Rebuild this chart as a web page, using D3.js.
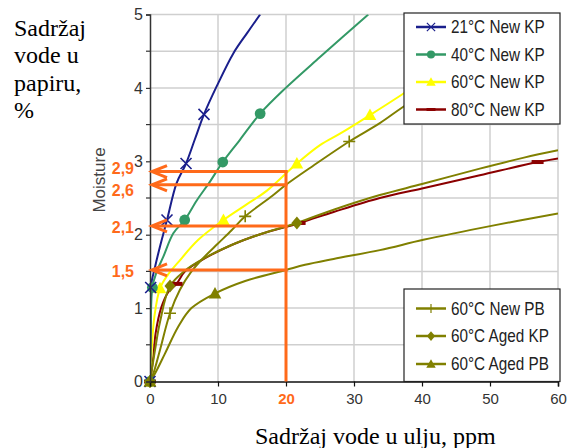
<!DOCTYPE html>
<html><head><meta charset="utf-8">
<script src="https://cdn.jsdelivr.net/npm/d3@7"></script>
<style>body{margin:0;background:#fff;overflow:hidden}</style>
</head><body>
<svg id="c" width="573" height="448"></svg>
<script>
// ---- data ----
const xTicks = [0, 10, 20, 30, 40, 50, 60];
const yTicks = [0, 1, 2, 3, 4, 5];
const yMinor = [0.5, 1.5, 2.5, 3.5, 4.5];

const s21x = [0, 0.05, 0.1, 0.74, 1.47, 2.5, 3.9, 5.3, 6.6, 7.94, 9.8, 12.25, 14.3, 16.2];
const s21y = [0, 0.65, 1.28, 1.56, 1.84, 2.2, 2.7, 2.97, 3.3, 3.64, 4.02, 4.47, 4.75, 5.0];
const s21m = [0, 2, 5, 7, 9];

const s40x = [0, 0.1, 0.35, 1.0, 1.96, 3.43, 5.1, 6.9, 8.8, 10.7, 13.2, 16.2, 19.85, 25, 32.1];
const s40y = [0, 0.6, 1.28, 1.5, 1.70, 2.02, 2.2, 2.47, 2.72, 2.99, 3.29, 3.65, 3.99, 4.42, 5.0];
const s40m = [0, 2, 6, 9, 11];

const s60x = [0, 0.25, 0.64, 1.47, 2.6, 4.2, 7.1, 10.8, 14, 17.2, 21.6, 25, 28, 32.35, 36.9, 45, 55];
const s60y = [0, 0.43, 0.88, 1.27, 1.45, 1.63, 1.93, 2.2, 2.4, 2.6, 2.97, 3.22, 3.38, 3.63, 3.9, 4.4, 5.0];
const s60m = [0, 3, 7, 10, 13];

const s80x = [0, 0.5, 0.83, 1.7, 2.7, 3.9, 5.15, 8.1, 12, 16, 22, 27, 33.8, 40, 48.5, 57, 60];
const s80y = [0, 0.34, 0.66, 1.02, 1.22, 1.33, 1.5, 1.68, 1.86, 2.0, 2.16, 2.31, 2.50, 2.63, 2.81, 2.99, 3.04];
const s80m = [0, 5, 10, 15];

const pbNx = [0, 0.5, 1.47, 2.94, 4.4, 6.1, 7.8, 10.0, 12.0, 14.0, 18, 20, 24, 29.3, 33.8, 37.2, 45, 55];
const pbNy = [0, 0.11, 0.43, 0.93, 1.25, 1.5, 1.68, 1.88, 2.06, 2.25, 2.53, 2.68, 2.94, 3.27, 3.52, 3.74, 4.2, 4.8];
const pbNm = [0, 3, 9, 13];

const kpAx = [0, 0.74, 1.47, 2.94, 5.0, 8.0, 12, 16, 21.6, 27, 33.8, 40, 48.5, 55, 60];
const kpAy = [0, 0.43, 0.81, 1.30, 1.5, 1.68, 1.86, 2.0, 2.16, 2.34, 2.54, 2.69, 2.90, 3.05, 3.15];
const kpAm = [0, 3, 8];

const pbAx = [0, 0.74, 2.2, 4.17, 6.1, 9.56, 14, 20, 22.8, 27, 33.8, 40.2, 50.2, 60];
const pbAy = [0, 0.11, 0.38, 0.75, 1.0, 1.2, 1.37, 1.52, 1.59, 1.67, 1.79, 1.93, 2.12, 2.29];
const pbAm = [0, 5];

const seriesNames = ["21°C New KP", "40°C New KP", "60°C New KP", "80°C New KP",
                     "60°C New PB", "60°C Aged KP", "60°C Aged PB"];
const seriesColors = ["#1a1f8c", "#339966", "#ffff00", "#8b0000", "#808000", "#808000", "#808000"];
const seriesMarkers = ["x", "circle", "tri", "dash", "plus", "diamond", "tri"];

const arrowX = 20;
const arrowValues = [2.86, 2.68, 2.12, 1.52];
const labelValues = [2.9, 2.6, 2.1, 1.5];
const labelTexts = ["2,9", "2,6", "2,1", "1,5"];

// ---- build ----
const seriesData = [
  [s21x, s21y, s21m], [s40x, s40y, s40m], [s60x, s60y, s60m], [s80x, s80y, s80m],
  [pbNx, pbNy, pbNm], [kpAx, kpAy, kpAm], [pbAx, pbAy, pbAm]
];
const series = seriesData.map((d, i) => ({
  name: seriesNames[i], color: seriesColors[i], marker: seriesMarkers[i],
  pts: d[0].map((x, j) => [x, d[1][j]]),
  marks: d[2].map(j => [d[0][j], d[1][j]])
}));

const svg = d3.select("#c");
const x = d3.scaleLinear().domain([0, 60]).range([150, 558]);
const y = d3.scaleLinear().domain([0, 5]).range([381.5, 14.5]);
const orange = "#ff6a1a";
const sans = "'Liberation Sans',Arial,sans-serif";
const serif = "'Liberation Serif','Times New Roman',serif";

svg.append("defs").append("clipPath").attr("id", "plot")
  .append("rect").attr("x", x(0)).attr("y", y(5)).attr("width", x(60) - x(0)).attr("height", y(0) - y(5));

// grid
const grid = svg.append("g");
grid.selectAll(".gx").data(xTicks.slice(1)).join("line")
  .attr("x1", d => x(d)).attr("x2", d => x(d)).attr("y1", y(0)).attr("y2", y(5))
  .attr("stroke", "#cfcfcf").attr("stroke-width", 1.5);
grid.selectAll(".gy").data(yTicks.slice(1).concat(yMinor)).join("line")
  .attr("x1", x(0)).attr("x2", x(60)).attr("y1", d => y(d)).attr("y2", d => y(d))
  .attr("stroke", "#cfcfcf").attr("stroke-width", 1.5);

// marker drawing
function marker(g, type, cx, cy, color, s) {
  s = s || 1;
  const t = `translate(${cx},${cy}) scale(${s})`;
  if (type === "x") g.append("path").attr("transform", t).attr("d", "M-5.5,-5.5L5.5,5.5M-5.5,5.5L5.5,-5.5")
      .attr("stroke", color).attr("stroke-width", 1.6).attr("fill", "none");
  else if (type === "plus") g.append("path").attr("transform", t).attr("d", "M-6,0H6M0,-6V6")
      .attr("stroke", color).attr("stroke-width", 1.6).attr("fill", "none");
  else if (type === "circle") g.append("circle").attr("transform", t).attr("r", 5.4).attr("fill", color);
  else if (type === "tri") g.append("path").attr("transform", t).attr("d", "M0,-6.5L6.3,5L-6.3,5Z").attr("fill", color);
  else if (type === "diamond") g.append("path").attr("transform", t).attr("d", "M0,-6.5L5.5,0L0,6.5L-5.5,0Z").attr("fill", color);
  else if (type === "dash") g.append("rect").attr("transform", t).attr("x", -6).attr("y", -2).attr("width", 12).attr("height", 4).attr("fill", color);
}

// lines
const line = d3.line().x(d => x(d[0])).y(d => y(d[1])).curve(d3.curveCatmullRom.alpha(0.5));
const lg = svg.append("g").attr("clip-path", "url(#plot)");
const order = [3, 2, 1, 0, 4, 5, 6];
order.forEach(i => {
  lg.append("path").attr("d", line(series[i].pts)).attr("fill", "none")
    .attr("stroke", series[i].color).attr("stroke-width", 2);
});
const mg = svg.append("g");
order.forEach(i => {
  series[i].marks.forEach(p => marker(mg, series[i].marker, x(p[0]), y(p[1]), series[i].color));
});

// axes
const xa = svg.append("g").attr("transform", `translate(0,${y(0)})`)
  .call(d3.axisBottom(x).tickValues(xTicks).tickSize(5).tickPadding(7));
xa.select(".domain").attr("stroke", "#111").attr("stroke-width", 1.5);
xa.selectAll(".tick line").attr("stroke", "#111").attr("stroke-width", 1.2);
xa.selectAll(".tick text").attr("font-family", sans).attr("font-size", 15)
  .attr("fill", d => d === arrowX ? orange : "#333").attr("font-weight", d => d === arrowX ? "bold" : "normal");

const ya = svg.append("g").attr("transform", `translate(${x(0)},0)`)
  .call(d3.axisLeft(y).tickValues(yTicks).tickSize(4).tickPadding(3).tickFormat(d3.format("d")));
ya.select(".domain").attr("stroke", "#333").attr("stroke-width", 1.5);
ya.selectAll(".tick line").attr("stroke", "#333").attr("stroke-width", 1.2);
ya.selectAll(".tick text").attr("font-family", sans).attr("font-size", 16).attr("fill", "#333");
ya.selectAll(".minor").data(yMinor).join("line").attr("class", "minor")
  .attr("x1", -4).attr("x2", 0).attr("y1", d => y(d)).attr("y2", d => y(d))
  .attr("stroke", "#333").attr("stroke-width", 1.2);

svg.append("text").attr("transform", `translate(105,180) rotate(-90)`)
  .attr("text-anchor", "middle").attr("font-family", sans).attr("font-size", 17).attr("fill", "#444")
  .text("Moisture");

// orange annotations
const og = svg.append("g");
og.append("line").attr("x1", x(arrowX)).attr("x2", x(arrowX)).attr("y1", y(0))
  .attr("y2", y(d3.max(arrowValues)) - 1.5).attr("stroke", orange).attr("stroke-width", 3);
arrowValues.forEach(v => {
  og.append("line").attr("x1", x(arrowX) + 1.5).attr("x2", x(0) + 3).attr("y1", y(v)).attr("y2", y(v))
    .attr("stroke", orange).attr("stroke-width", 3);
  og.append("path").attr("d", `M${x(0) + 17},${y(v) - 6}L${x(0) + 2},${y(v)}L${x(0) + 17},${y(v) + 6}`)
    .attr("fill", "none").attr("stroke", orange).attr("stroke-width", 3).attr("stroke-linejoin", "miter");
});
labelValues.forEach((v, i) => {
  og.append("text").attr("x", 134).attr("y", y(v)).attr("dy", "0.35em").attr("text-anchor", "end")
    .attr("font-family", sans).attr("font-weight", "bold").attr("font-size", 16).attr("fill", orange)
    .text(labelTexts[i]);
});

// legends
function legend(idx, lx, ly, w, h, rowY) {
  const g = svg.append("g");
  g.append("rect").attr("x", lx).attr("y", ly).attr("width", w).attr("height", h)
    .attr("fill", "#fff").attr("stroke", "#222").attr("stroke-width", 1.2);
  idx.forEach((i, k) => {
    const cy = rowY[k];
    g.append("line").attr("x1", 416).attr("x2", 446).attr("y1", cy).attr("y2", cy)
      .attr("stroke", series[i].color).attr("stroke-width", 2.5);
    marker(g, series[i].marker, 431, cy, series[i].color, 0.75);
    g.append("text").attr("transform", `translate(451,${cy + 6.3}) scale(1,1.15)`)
      .attr("font-family", sans).attr("font-size", 15.3).attr("fill", "#222").text(series[i].name);
  });
}
legend([0, 1, 2, 3], 404, 13, 156, 111, [27, 54.5, 82, 109.5]);
legend([4, 5, 6], 404, 289, 156, 92.5, [308.5, 336, 364]);

// titles
const lt = svg.append("text").attr("font-family", serif).attr("font-size", 24).attr("fill", "#000");
["Sadržaj", "vode u", "papiru,", "%"].forEach((s, i) => {
  lt.append("tspan").attr("x", 14).attr("y", 36 + i * 27.4).text(s);
});
svg.append("text").attr("x", 255).attr("y", 444).attr("font-family", serif).attr("font-size", 24)
  .attr("fill", "#000").text("Sadržaj vode u ulju, ppm");
</script>
</body></html>
